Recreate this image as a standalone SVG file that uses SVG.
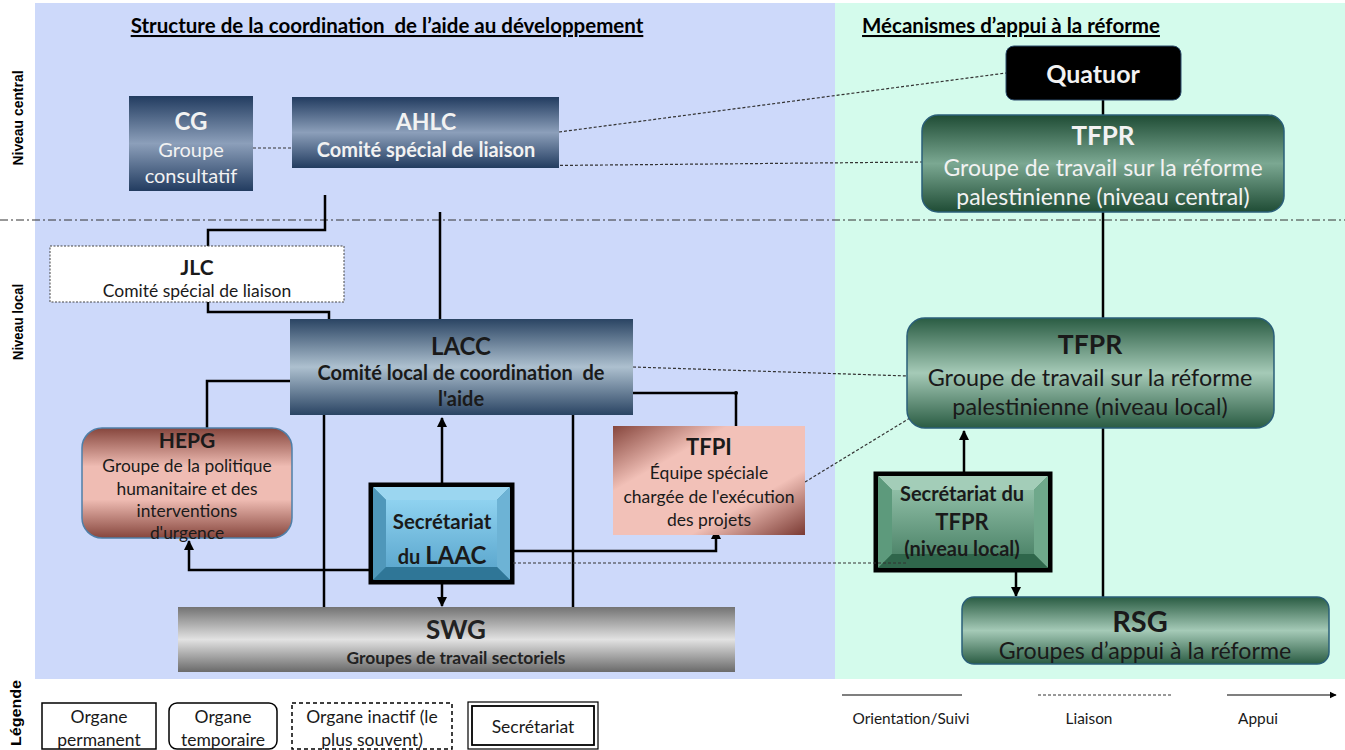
<svg xmlns="http://www.w3.org/2000/svg" width="1345" height="750" viewBox="0 0 1345 750">
<style>
text{font-family:Lato,"Liberation Sans",sans-serif;text-anchor:middle}
.b{font-weight:bold}
.w{fill:#f2f2f2}
.d{fill:#1a1a1a}
.c{fill:none;stroke:#000;stroke-width:2.5}
.l{fill:none;stroke:#333;stroke-width:1.2;stroke-dasharray:3,2}
.lab{font-family:"Liberation Sans",Arial,sans-serif;font-weight:bold;font-size:14px;fill:#000}
</style>
<defs>
<linearGradient id="navy" x1="0" y1="0" x2="0" y2="1"><stop offset="0" stop-color="#223c60"/><stop offset="0.5" stop-color="#8c9fba"/><stop offset="1" stop-color="#223c60"/></linearGradient>
<linearGradient id="navy2" x1="0" y1="0" x2="0" y2="1"><stop offset="0" stop-color="#2a4463"/><stop offset="0.5" stop-color="#adc0cf"/><stop offset="1" stop-color="#2a4463"/></linearGradient>
<linearGradient id="brownV" x1="0" y1="0" x2="0" y2="1"><stop offset="0" stop-color="#86463d"/><stop offset="0.35" stop-color="#efbcb3"/><stop offset="0.65" stop-color="#efbcb3"/><stop offset="1" stop-color="#86463d"/></linearGradient>
<linearGradient id="brownD" x1="0" y1="0" x2="1" y2="1"><stop offset="0" stop-color="#86463d"/><stop offset="0.3" stop-color="#f2c1b8"/><stop offset="0.7" stop-color="#f2c1b8"/><stop offset="1" stop-color="#7a3a33"/></linearGradient>
<linearGradient id="gray" x1="0" y1="0" x2="0" y2="1"><stop offset="0" stop-color="#737373"/><stop offset="0.5" stop-color="#e2e2e2"/><stop offset="1" stop-color="#6a6a6a"/></linearGradient>
<linearGradient id="green" x1="0" y1="0" x2="0" y2="1"><stop offset="0" stop-color="#1f4c35"/><stop offset="0.5" stop-color="#7ba892"/><stop offset="1" stop-color="#1f4c35"/></linearGradient>
<linearGradient id="green2" x1="0" y1="0" x2="0" y2="1"><stop offset="0" stop-color="#2a5c43"/><stop offset="0.5" stop-color="#a5cab7"/><stop offset="1" stop-color="#2a5c43"/></linearGradient>
<linearGradient id="blueSec" x1="0" y1="0" x2="0" y2="1"><stop offset="0" stop-color="#8fd2f0"/><stop offset="1" stop-color="#5ea9cf"/></linearGradient>
<linearGradient id="greenSec" x1="0" y1="0" x2="0" y2="1"><stop offset="0" stop-color="#8fbea6"/><stop offset="1" stop-color="#4f866b"/></linearGradient>
<marker id="arr" viewBox="0 0 10 10" refX="9" refY="5" markerWidth="4" markerHeight="4" orient="auto"><path d="M0,0 L10,5 L0,10 z" fill="#000"/></marker>
<marker id="arrL" viewBox="0 0 10 10" refX="9" refY="5" markerWidth="6" markerHeight="6" orient="auto"><path d="M0,0 L10,5 L0,10 z" fill="#000"/></marker>
</defs>

<!-- background panels -->
<rect x="35" y="3" width="800" height="676" fill="#cdd9fa"/>
<rect x="835" y="3" width="510" height="676" fill="#d4fbec"/>
<line x1="0" y1="220" x2="1345" y2="220" stroke="#333" stroke-width="1" stroke-dasharray="8,3,2,3"/>

<text class="b" x="387" y="33" font-size="20.5" fill="#000" text-decoration="underline" xml:space="preserve">Structure de la coordination  de l’aide au développement</text>
<text class="b" x="1011" y="33" font-size="20.5" fill="#000" text-decoration="underline">Mécanismes d’appui à la réforme</text>

<text class="lab" transform="translate(23,118) rotate(-90)" textLength="95" lengthAdjust="spacingAndGlyphs">Niveau central</text>
<text class="lab" transform="translate(23,322) rotate(-90)" textLength="76" lengthAdjust="spacingAndGlyphs">Niveau local</text>
<text class="lab" transform="translate(21,713) rotate(-90)" textLength="66" lengthAdjust="spacingAndGlyphs">Légende</text>

<!-- connectors -->
<g id="connectors">
<line class="l" x1="253" y1="148" x2="292" y2="148"/>
<line class="l" x1="559" y1="132" x2="1006" y2="73"/>
<line class="l" x1="500" y1="166" x2="922" y2="162"/>
<line class="l" x1="633" y1="367" x2="908" y2="376"/>
<line class="l" x1="805" y1="482" x2="910" y2="418"/>
<polyline class="c" points="325,195 325,230 208,230 208,247"/>
<line class="c" x1="440" y1="212" x2="440" y2="319"/>
<polyline class="c" points="208,302 208,312 329,312 329,322"/>
<polyline class="c" points="290,381 207,381 207,428"/>
<line class="c" x1="324" y1="415" x2="324" y2="607"/>
<line class="c" x1="573" y1="415" x2="573" y2="607"/>
<polyline class="c" points="633,393 736,393 736,426"/>
<circle cx="736" cy="393" r="2" fill="#000"/>
<line class="c" x1="442" y1="484" x2="442" y2="418" marker-end="url(#arr)"/>
<line class="c" x1="442" y1="583" x2="442" y2="606" marker-end="url(#arr)"/>
<polyline class="c" points="369,570 189,570 189,541" marker-end="url(#arr)"/>
<polyline class="c" points="513,551 716,551 716,530" marker-end="url(#arr)"/>
<line class="c" x1="1103" y1="100" x2="1103" y2="115"/>
<line class="c" x1="1103" y1="212" x2="1103" y2="318"/>
<line class="c" x1="1103" y1="428" x2="1103" y2="597"/>
<line class="c" x1="964" y1="472" x2="964" y2="431" marker-end="url(#arr)"/>
<line class="c" x1="1016" y1="572" x2="1016" y2="596" marker-end="url(#arr)"/>
</g>

<g id="CG">
<rect x="129" y="96" width="124" height="95" fill="url(#navy)"/>
<text class="b w" x="191" y="130" font-size="24">CG</text>
<text class="w" x="191" y="157" font-size="20">Groupe</text>
<text class="w" x="191" y="183" font-size="20">consultatif</text>
</g>

<g id="AHLC">
<rect x="292" y="97" width="267" height="71" fill="url(#navy)"/>
<text class="b w" x="426" y="130" font-size="23">AHLC</text>
<text class="b w" x="426" y="157" font-size="20">Comité spécial de liaison</text>
</g>

<g id="Quatuor">
<rect x="1006" y="46" width="175" height="54" rx="8" fill="#000" stroke="#2a4a6a" stroke-width="1"/>
<text class="b w" x="1093" y="83" font-size="25">Quatuor</text>
</g>

<g id="TFPR_central">
<rect x="922" y="115" width="362" height="97" rx="16" fill="url(#green)" stroke="#2a5f78" stroke-width="1.5"/>
<text class="b w" x="1103" y="145" font-size="26">TFPR</text>
<text class="w" x="1103" y="176" font-size="23">Groupe de travail sur la réforme</text>
<text class="w" x="1103" y="205" font-size="23">palestinienne (niveau central)</text>
</g>

<g id="JLC">
<rect x="50" y="246" width="294" height="56" fill="#fff" stroke="#444" stroke-width="1" stroke-dasharray="2,1.5"/>
<text class="b d" x="197" y="275" font-size="21">JLC</text>
<text class="d" x="197" y="297" font-size="17.5">Comité spécial de liaison</text>
</g>

<g id="LACC">
<rect x="290" y="319" width="343" height="96" fill="url(#navy2)"/>
<text class="b d" x="461" y="355" font-size="24">LACC</text>
<text class="b d" x="461" y="380" font-size="20" xml:space="preserve">Comité local de coordination  de</text>
<text class="b d" x="461" y="406" font-size="20">l'aide</text>
</g>

<g id="HEPG">
<rect x="82" y="428" width="210" height="110" rx="20" fill="url(#brownV)" stroke="#4f7fa8" stroke-width="1.5"/>
<text class="b d" x="187" y="448" font-size="21">HEPG</text>
<text class="d" x="187" y="472" font-size="17.4">Groupe de la politique</text>
<text class="d" x="187" y="495" font-size="17.4">humanitaire et des</text>
<text class="d" x="187" y="517" font-size="17.4">interventions</text>
<text class="d" x="187" y="539" font-size="17.4">d'urgence</text>
</g>

<g id="TFPI">
<rect x="613" y="426" width="192" height="109" fill="url(#brownD)"/>
<text class="b d" x="709" y="455" font-size="22">TFPI</text>
<text class="d" x="709" y="479" font-size="17.5">Équipe spéciale</text>
<text class="d" x="709" y="503" font-size="17.5">chargée de l'exécution</text>
<text class="d" x="709" y="526" font-size="17.5">des projets</text>
</g>

<g id="Secretariat_LAAC">
<rect x="371" y="485" width="141" height="97" fill="#3d88ab" stroke="#000" stroke-width="5"/>
<polygon points="373,487 510,487 497,500 386,500" fill="#9bd6f0"/>
<polygon points="373,487 386,500 386,567 373,580" fill="#4f97ba"/>
<polygon points="510,487 510,580 497,567 497,500" fill="#6db3d5"/>
<polygon points="373,580 386,567 497,567 510,580" fill="#2f7697"/>
<rect x="386" y="500" width="111" height="67" fill="url(#blueSec)"/>
<text class="b d" x="442" y="529" font-size="20.4">Secrétariat</text>
<text class="b d" x="442" y="564" font-size="20">du <tspan font-size="24">LAAC</tspan></text>
</g>

<g id="SWG">
<rect x="178" y="607" width="557" height="65" fill="url(#gray)"/>
<text class="b" x="456" y="639" font-size="26" fill="#222">SWG</text>
<text class="b" x="456" y="664" font-size="17.4" fill="#222">Groupes de travail sectoriels</text>
</g>

<g id="TFPR_local">
<rect x="907" y="318" width="367" height="110" rx="18" fill="url(#green2)" stroke="#2a5f78" stroke-width="1.5"/>
<text class="b d" x="1090" y="354" font-size="26.5">TFPR</text>
<text class="d" x="1090" y="386" font-size="23.4">Groupe de travail sur la réforme</text>
<text class="d" x="1090" y="415" font-size="23.4">palestinienne (niveau local)</text>
</g>

<g id="Secretariat_TFPR">
<rect x="876" y="474" width="174" height="96" fill="#3f7a5e" stroke="#000" stroke-width="5"/>
<polygon points="878,476 1048,476 1034,490 892,490" fill="#a3cdb8"/>
<polygon points="878,476 892,490 892,554 878,568" fill="#5d9a7c"/>
<polygon points="1048,476 1048,568 1034,554 1034,490" fill="#6fa88b"/>
<polygon points="878,568 892,554 1034,554 1048,568" fill="#2f664b"/>
<rect x="892" y="490" width="142" height="64" fill="url(#greenSec)"/>
<text class="b d" x="962" y="501" font-size="20">Secrétariat du</text>
<text class="b d" x="962" y="530" font-size="22">TFPR</text>
<text class="b d" x="962" y="556" font-size="20">(niveau local)</text>
</g>
<line class="l" x1="513" y1="563" x2="908" y2="563"/>

<g id="RSG">
<rect x="962" y="597" width="367" height="67" rx="12" fill="url(#green2)" stroke="#2a5f78" stroke-width="1.5"/>
<text class="b d" x="1140" y="632" font-size="29">RSG</text>
<text class="d" x="1145" y="659" font-size="23.2">Groupes d’appui à la réforme</text>
</g>

<!-- legend -->
<g id="legend">
<rect x="42" y="703" width="114" height="46" fill="#fff" stroke="#000" stroke-width="1.5"/>
<text class="d" x="99" y="723" font-size="17.5">Organe</text>
<text class="d" x="99" y="746" font-size="17.5">permanent</text>
<rect x="169" y="703" width="108" height="46" rx="8" fill="#fff" stroke="#000" stroke-width="1.5"/>
<text class="d" x="223" y="723" font-size="17.5">Organe</text>
<text class="d" x="223" y="746" font-size="17.5">temporaire</text>
<rect x="292" y="703" width="160" height="46" fill="#fff" stroke="#000" stroke-width="1.5" stroke-dasharray="4,3"/>
<text class="d" x="372" y="723" font-size="17.5">Organe inactif (le</text>
<text class="d" x="372" y="746" font-size="17.5">plus souvent)</text>
<rect x="468" y="702" width="130" height="47" fill="#fff" stroke="#000" stroke-width="1.2"/>
<rect x="472" y="706" width="122" height="39" fill="none" stroke="#000" stroke-width="1.8"/>
<text class="d" x="533" y="733" font-size="17.5">Secrétariat</text>
<line x1="842" y1="695" x2="962" y2="695" stroke="#000" stroke-width="1.2"/>
<line x1="1038" y1="695" x2="1172" y2="695" stroke="#333" stroke-width="1" stroke-dasharray="3,2"/>
<line x1="1227" y1="695" x2="1336" y2="695" stroke="#000" stroke-width="1.2" marker-end="url(#arrL)"/>
<text class="d" x="911" y="724" font-size="15.4">Orientation/Suivi</text>
<text class="d" x="1089" y="724" font-size="15.4">Liaison</text>
<text class="d" x="1258" y="724" font-size="15.4">Appui</text>
</g>
</svg>
